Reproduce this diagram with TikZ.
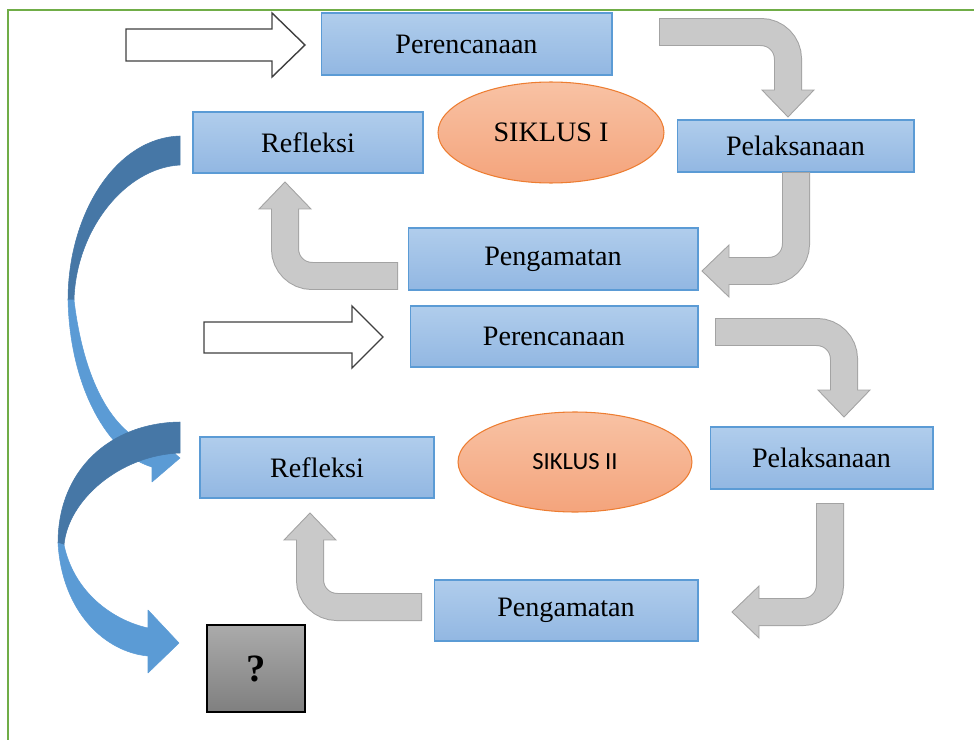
\documentclass[tikz,border=0pt]{standalone}
\usepackage{fontspec}
\setmainfont{Liberation Serif}
\newfontfamily\calibri{Carlito}
\usetikzlibrary{positioning,calc,shapes.geometric}

\definecolor{hijau}{HTML}{70AD47}
\definecolor{birumuda}{HTML}{B0CDEC}
\definecolor{birutua}{HTML}{92B7E2}
\definecolor{garisbiru}{HTML}{5B9BD5}
\definecolor{oranyemuda}{HTML}{F8C2A4}
\definecolor{oranyetua}{HTML}{F4A47C}
\definecolor{garisoranye}{HTML}{ED7D31}
\definecolor{abu}{HTML}{C9C9C9}
\definecolor{garisabu}{HTML}{A3A3A3}
\definecolor{pitagelap}{HTML}{4677A6}
\definecolor{pitaterang}{HTML}{5B9BD5}

\tikzset{
  kotak/.style={draw=garisbiru, line width=0.6pt, top color=birumuda, bottom color=birutua,
    inner sep=0pt, font=\fontsize{16}{19}\selectfont},
  oval/.style={ellipse, draw=garisoranye, line width=0.6pt, top color=oranyemuda,
    bottom color=oranyetua, inner sep=0pt, font=\fontsize{16}{19}\selectfont},
  tanya/.style={draw=black, line width=0.8pt, top color=black!33, bottom color=black!50,
    inner sep=0pt, font=\fontsize{22}{26}\selectfont\bfseries},
  panahputih/.style={draw=black!75, fill=white, line width=0.8pt},
  pita/.style={draw=#1, fill=#1, line width=0.3pt, line join=round},
}

% panah abu-abu berbelok: awal, sudut, ujung
\newcommand{\panahabu}[3]{%
  \coordinate (hb) at ($(#3)!0.54cm!(#2)$);
  \draw[garisabu, line width=0.56cm, rounded corners=0.54cm] (#1) -- (#2) -- (hb);
  \filldraw[fill=abu, draw=garisabu, line width=0.5pt]
    ($(hb)!0.52cm!90:(#3)$) -- (#3) -- ($(hb)!0.52cm!-90:(#3)$) -- cycle;
  \draw[abu, line width=0.52cm, rounded corners=0.54cm, shorten <=0.02cm]
    (#1) -- (#2) -- ($(hb)!0.06cm!(#3)$);
}

\begin{document}
\begin{tikzpicture}[x=0.02cm, y=-0.02cm]
  \useasboundingbox (0,0) rectangle (974,740);

  % Bingkai hijau
  \draw[hijau, line width=1.2pt] (8,740) -- (8,10) -- (974,10);

  % Pita biru - dari siklus I ke siklus II
  \draw[pita=pitagelap] (180,136) .. controls (115,138) and (68,215) .. (68,300)
    -- (74,300) .. controls (76,230) and (125,168) .. (180,165) -- cycle;
  \draw[pita=pitaterang] (68,300) .. controls (70,390) and (110,455) .. (152,467)
    -- (152,482) -- (180,458) -- (152,434) -- (152,446)
    .. controls (106,430) and (82,368) .. (74,300) -- cycle;

  % Pita biru - dari siklus II ke tanda tanya
  \draw[pita=pitagelap] (180,422) .. controls (110,423) and (58,470) .. (58,543)
    -- (64,545) .. controls (68,500) and (120,455) .. (180,453) -- cycle;
  \draw[pita=pitaterang] (58,543) .. controls (62,612) and (105,652) .. (148,656)
    -- (148,673) -- (179,643) -- (148,610) -- (148,628)
    .. controls (112,620) and (74,592) .. (64,545) -- cycle;

  % Panah putih masuk
  \draw[panahputih] (126,29) -- (272,29) -- (272,13) -- (305,45) -- (272,77)
    -- (272,61) -- (126,61) -- cycle;
  \draw[panahputih] (204,322) -- (352,322) -- (352,306) -- (383,337) -- (352,368)
    -- (352,353) -- (204,353) -- cycle;

  % Siklus I
  \node[kotak, minimum width=5.82cm, minimum height=1.24cm] (per1) at (466.5,44) {Perencanaan};
  \node[oval, minimum width=4.52cm, minimum height=2.02cm] (sik1) at (551,132.5) {SIKLUS I};
  \node[kotak, minimum width=4.6cm, minimum height=1.22cm] (ref1) at (308,142.5) {Refleksi};
  \node[kotak, minimum width=4.74cm, minimum height=1.04cm] (pel1) at (795.5,146) {Pelaksanaan};
  \node[kotak, minimum width=5.8cm, minimum height=1.24cm] (pen1) at (553,259) {Pengamatan};

  % Siklus II
  \node[kotak, minimum width=5.76cm, minimum height=1.22cm] (per2) at (554,336.5) {Perencanaan};
  \node[oval, minimum width=4.68cm, minimum height=2.0cm, font=\calibri\fontsize{14}{17}\selectfont]
    (sik2) at (575,462) {SIKLUS II};
  \node[kotak, minimum width=4.68cm, minimum height=1.22cm] (ref2) at (317,467.5) {Refleksi};
  \node[kotak, minimum width=4.46cm, minimum height=1.24cm] (pel2) at (821.5,458) {Pelaksanaan};
  \node[kotak, minimum width=5.28cm, minimum height=1.22cm] (pen2) at (566,610.5) {Pengamatan};

  % Kotak tanda tanya
  \node[tanya, minimum width=1.96cm, minimum height=1.74cm] (tny) at (256,668.5) {?};

  % Panah abu-abu siklus I
  \coordinate (a1) at (659,32);  \coordinate (a2) at (788,32);  \coordinate (a3) at (788,117);
  \coordinate (b1) at (796,172); \coordinate (b2) at (796,271); \coordinate (b3) at (702,271);
  \coordinate (c1) at (398,276); \coordinate (c2) at (285,276); \coordinate (c3) at (285,182);
  \panahabu{a1}{a2}{a3}
  \panahabu{b1}{b2}{b3}
  \panahabu{c1}{c2}{c3}

  % Panah abu-abu siklus II
  \coordinate (d1) at (715,332); \coordinate (d2) at (844,332); \coordinate (d3) at (844,417);
  \coordinate (e1) at (830,503); \coordinate (e2) at (830,612); \coordinate (e3) at (732,612);
  \coordinate (f1) at (422,607); \coordinate (f2) at (310,607); \coordinate (f3) at (310,513);
  \panahabu{d1}{d2}{d3}
  \panahabu{e1}{e2}{e3}
  \panahabu{f1}{f2}{f3}
\end{tikzpicture}
\end{document}
